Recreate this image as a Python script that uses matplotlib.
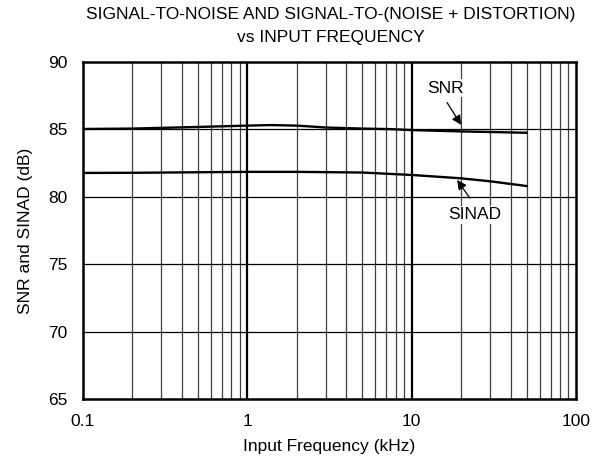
import numpy as np
from matplotlib import pyplot as plt
from matplotlib.ticker import FixedLocator, NullFormatter

plt.rcParams['font.family'] = ['Liberation Sans', 'DejaVu Sans']

# data
snr_freq = [0.1, 0.2, 0.5, 1, 1.4, 2, 3, 5, 7.4, 10, 20, 50]
snr_db = [85.03, 85.06, 85.18, 85.28, 85.32, 85.28, 85.14, 85.06, 85.02, 84.95, 84.85, 84.75]

sinad_freq = [0.1, 0.2, 0.5, 1, 2, 5, 10, 20, 30, 50]
sinad_db = [81.77, 81.78, 81.82, 81.85, 81.85, 81.8, 81.62, 81.37, 81.15, 80.8]

xticks = [0.1, 1, 10, 100]
xticklabels = ['0.1', '1', '10', '100']
yticks = [65, 70, 75, 80, 85, 90]

fig = plt.figure(figsize=(6.08, 4.65), dpi=100)
ax = fig.add_axes([0.1365, 0.1419, 0.8109, 0.7248])

ax.set_xscale('log')
ax.set_xlim(0.1, 100)
ax.set_ylim(65, 90)

# grid: thin minor verticals, thick decade lines, thin horizontals
minors = [m * d for d in (0.1, 1, 10) for m in range(2, 10)]
for x in minors:
    ax.axvline(x, color='#404040', lw=0.9, zorder=1)
for x in (1, 10):
    ax.axvline(x, color='k', lw=1.6, zorder=1)
for y in yticks[1:-1]:
    ax.axhline(y, color='k', lw=0.9, zorder=1)

ax.plot(snr_freq, snr_db, color='k', lw=1.7, zorder=3)
ax.plot(sinad_freq, sinad_db, color='k', lw=1.7, zorder=3)

arrow = dict(arrowstyle='-|>', color='k', lw=0.9, mutation_scale=14, shrinkA=0, shrinkB=0)
ax.text(16, 88.07, 'SNR', ha='center', va='center', fontsize=12.5, zorder=4,
        bbox=dict(fc='white', ec='none', pad=1))
ax.annotate('', xy=(20, 85.33), xytext=(16.4, 87.0), arrowprops=arrow, zorder=4)
ax.text(24.3, 78.65, 'SINAD', ha='center', va='center', fontsize=12.5, zorder=4,
        bbox=dict(fc='white', ec='none', pad=1))
ax.annotate('', xy=(18.9, 81.25), xytext=(22.6, 79.9), arrowprops=arrow, zorder=4)

ax.xaxis.set_major_locator(FixedLocator(xticks))
ax.set_xticklabels(xticklabels)
ax.xaxis.set_minor_formatter(NullFormatter())
ax.set_yticks(yticks)
ax.tick_params(which='both', length=0, labelsize=12.5)
ax.tick_params(axis='x', pad=11)
ax.tick_params(axis='y', pad=11)

for s in ax.spines.values():
    s.set_linewidth(1.8)
    s.set_zorder(5)

ax.set_xlabel('Input Frequency (kHz)', fontsize=12.5, labelpad=7)
ax.set_ylabel('SNR and SINAD (dB)', fontsize=12.5, labelpad=11)
fig.text(0.5445, 0.985, 'SIGNAL-TO-NOISE AND SIGNAL-TO-(NOISE + DISTORTION)\nvs INPUT FREQUENCY',
         ha='center', va='top', fontsize=12.5, linespacing=1.65)

fig.savefig('out.png', dpi=100)
